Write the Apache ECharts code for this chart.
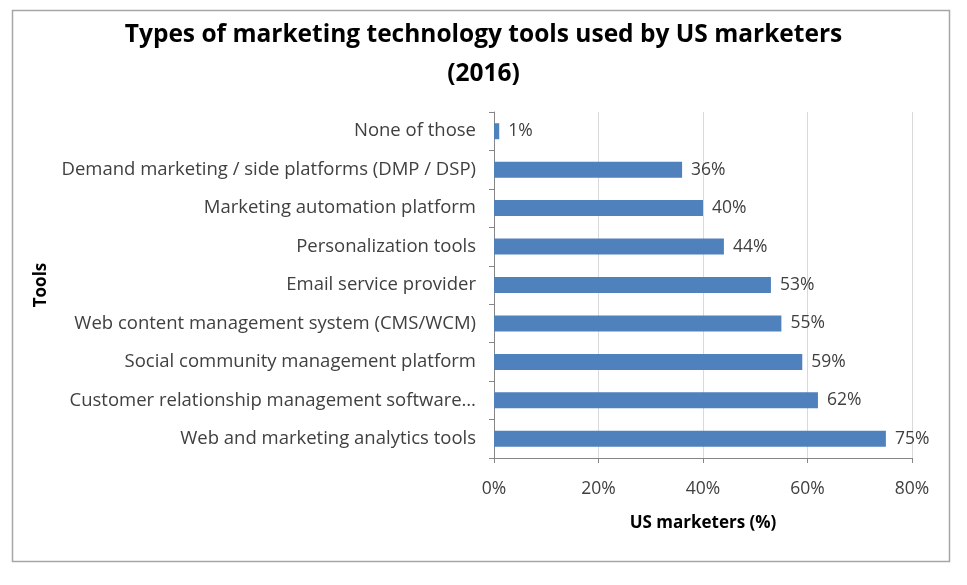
<!DOCTYPE html>
<html><head><meta charset="utf-8">
<script src="https://cdn.jsdelivr.net/npm/echarts@6/dist/echarts.min.js"></script>
<style>html,body{margin:0;padding:0;background:#fff}#c{width:967px;height:585px}</style>
</head><body><div id="c"></div>
<script>
const categories = [
  "Web and marketing analytics tools",
  "Customer relationship management software…",
  "Social community management platform",
  "Web content management system (CMS/WCM)",
  "Email service provider",
  "Personalization tools",
  "Marketing automation platform",
  "Demand marketing / side platforms (DMP / DSP)",
  "None of those"
];
const values = [75, 62, 59, 55, 53, 44, 40, 36, 1];
const xTicks = [0, 20, 40, 60, 80];

const chart = echarts.init(document.getElementById('c'));
const font = '"Open Sans", "Noto Sans", sans-serif';
chart.setOption({
  animation: false,
  graphic: [{
    type: 'rect', shape: {x: 12.5, y: 10.5, width: 937, height: 551},
    style: {fill: 'none', stroke: '#a6a6a6', lineWidth: 1.5}, silent: true
  }],
  title: {
    text: 'Types of marketing technology tools used by US marketers\n(2016)',
    left: 'center', top: 11,
    textStyle: {fontFamily: font, fontWeight: 'bold', fontSize: 24.5, color: '#000', lineHeight: 39}
  },
  grid: {left: 494, right: 55, top: 112, bottom: 127},
  xAxis: {
    type: 'value', min: 0, max: 80, interval: 20,
    name: 'US marketers (%)', nameLocation: 'middle', nameGap: 57,
    nameTextStyle: {fontFamily: font, fontWeight: 'bold', fontSize: 17, color: '#000'},
    axisLine: {show: true, lineStyle: {color: '#868686'}},
    axisTick: {show: true, length: 5, lineStyle: {color: '#868686'}},
    axisLabel: {fontFamily: font, fontSize: 17.5, color: '#404040', margin: 22,
      formatter: v => xTicks.includes(v) ? v + '%' : ''},
    splitLine: {show: true, lineStyle: {color: '#d9d9d9'}}
  },
  yAxis: {
    type: 'category', data: categories,
    name: 'Tools', nameLocation: 'middle', nameGap: 444, nameRotate: 90,
    nameTextStyle: {fontFamily: font, fontWeight: 'bold', fontSize: 17, color: '#000'},
    axisLine: {show: true, lineStyle: {color: '#868686'}},
    axisTick: {show: true, length: 5, lineStyle: {color: '#868686'}},
    axisLabel: {fontFamily: font, fontSize: 18.5, color: '#404040', margin: 18}
  },
  series: [{
    type: 'bar', data: values, barWidth: 16,
    itemStyle: {color: '#4F81BD'},
    label: {show: true, position: 'right', distance: 9, formatter: p => p.value + '%',
      fontFamily: font, fontSize: 17.5, color: '#404040'}
  }]
});
</script></body></html>
